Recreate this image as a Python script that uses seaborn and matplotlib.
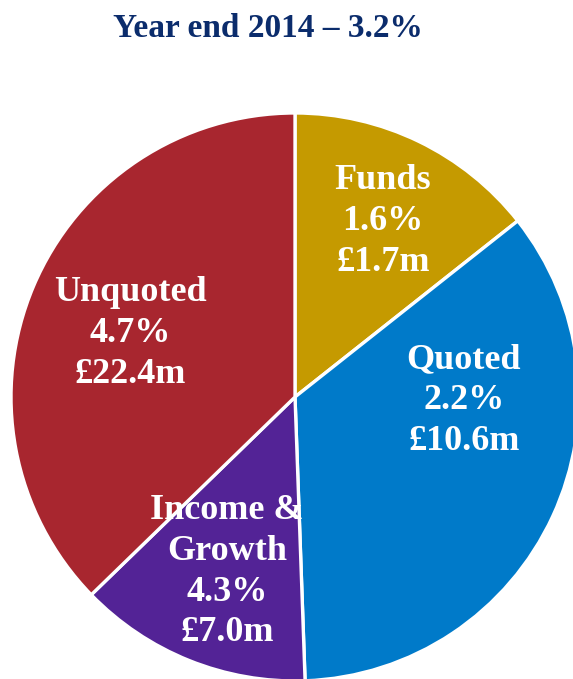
import matplotlib
matplotlib.use("Agg")
import matplotlib.pyplot as plt
import seaborn as sns

# Portfolio segments, their share of the portfolio, return and gain
segments = ["Funds", "Quoted", "Income &\nGrowth", "Unquoted"]
portfolio_share = [14.35, 35.08, 13.30, 37.26]
returns_pct = [1.6, 2.2, 4.3, 4.7]
gains_m = [1.7, 10.6, 7.0, 22.4]
overall_return = 3.2
year = 2014

colors = ["#C59A00", "#007AC9", "#532396", "#A8262F"]
title_color = "#0B2C6C"

sns.set_theme(style="white")
plt.rcParams["font.family"] = ["Liberation Serif", "DejaVu Serif"]

fig = plt.figure(figsize=(5.73, 6.79), dpi=100)
ax = fig.add_axes([0.0192, -0.0029, 0.9913, 0.8365])

wedges, _ = ax.pie(
    portfolio_share,
    colors=colors,
    startangle=90,
    counterclock=False,
    radius=1.0,
    wedgeprops=dict(edgecolor="white", linewidth=2.4),
)
ax.set_xlim(-1, 1)
ax.set_ylim(-1, 1)
ax.set_aspect("equal")
ax.axis("off")

# label anchor points inside each wedge (pie-radius units)
label_pos = [(0.31, 0.618), (0.595, -0.012), (-0.24, -0.615), (-0.58, 0.224)]
for name, r, g, (x, y) in zip(segments, returns_pct, gains_m, label_pos):
    ax.text(x, y, f"{name}\n{r:.1f}%\n£{g:.1f}m", ha="center", va="center",
            color="white", fontsize=26, fontweight="bold", linespacing=1.31,
            clip_on=False)

fig.text(0.468, 1 - 37 / 679, f"Year end {year} – {overall_return:.1f}%",
         ha="center", va="baseline", fontsize=24, fontweight="bold",
         color=title_color)

fig.savefig("out.png", dpi=100)
